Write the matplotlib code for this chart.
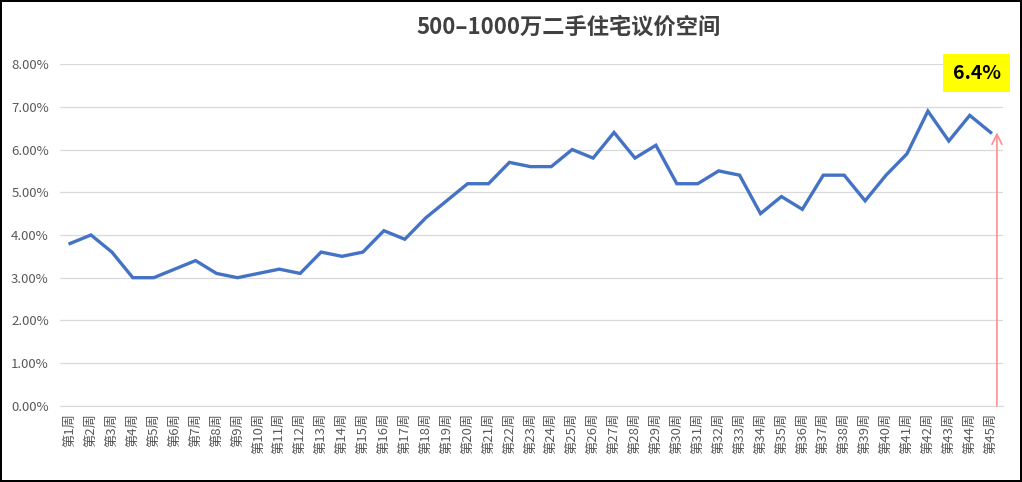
import matplotlib
matplotlib.use("Agg")
import matplotlib.pyplot as plt
from matplotlib.ticker import FuncFormatter

plt.rcParams['font.family'] = ['Noto Sans CJK SC', 'DejaVu Sans']

# data
weeks = [f"第{i}周" for i in range(1, 46)]
values = [3.8, 4.0, 3.6, 3.0, 3.0, 3.2, 3.4, 3.1, 3.0, 3.1,
          3.2, 3.1, 3.6, 3.5, 3.6, 4.1, 3.9, 4.4, 4.8, 5.2,
          5.2, 5.7, 5.6, 5.6, 6.0, 5.8, 6.4, 5.8, 6.1, 5.2,
          5.2, 5.5, 5.4, 4.5, 4.9, 4.6, 5.4, 5.4, 4.8, 5.4,
          5.9, 6.9, 6.2, 6.8, 6.4]
yticks = [0, 1, 2, 3, 4, 5, 6, 7, 8]
title = "500–1000万二手住宅议价空间"
callout = "6.4%"

fig = plt.figure(figsize=(10.22, 4.82), dpi=100)
fig.patch.set_edgecolor('black')
fig.patch.set_linewidth(1.5)
ax = fig.add_axes([0.0587, 0.158, 0.9223, 0.709])

x = list(range(1, len(values) + 1))
ax.plot(x, values, color='#4472C4', linewidth=2.4, solid_joinstyle='miter')

ax.set_ylim(0, 8)
ax.set_xlim(0.52, 45.57)
ax.set_yticks(yticks)
ax.yaxis.set_major_formatter(FuncFormatter(lambda v, p: f"{v:.2f}%"))
ax.set_xticks(x)
ax.set_xticklabels(weeks, rotation=90, fontsize=9.5, color='#595959')
ax.tick_params(axis='y', labelsize=9.5, colors='#595959', length=0, pad=8)
ax.tick_params(axis='x', length=0, pad=5)
ax.grid(axis='y', color='#d9d9d9', linewidth=0.9)
ax.set_axisbelow(True)
for s in ['top', 'right', 'left']:
    ax.spines[s].set_visible(False)
ax.spines['bottom'].set_color('#d9d9d9')

# red arrow pointing at the last value
last = values[-1]
ax.annotate('', xy=(45.3, last), xytext=(45.3, 0),
            arrowprops=dict(arrowstyle='->', color='#FF8F8F', lw=1.2,
                            mutation_scale=18, shrinkA=0, shrinkB=0))
ax.text(44.33, 7.79, callout, fontsize=14, fontweight='bold', color='black',
        ha='center', va='center',
        bbox=dict(boxstyle='square,pad=0.5', facecolor='#FFFF00', edgecolor='none'))

fig.text(0.556, 0.944, title, fontsize=16, fontweight='bold', color='#404040',
         ha='center', va='center')

fig.savefig('out.png', dpi=100)
